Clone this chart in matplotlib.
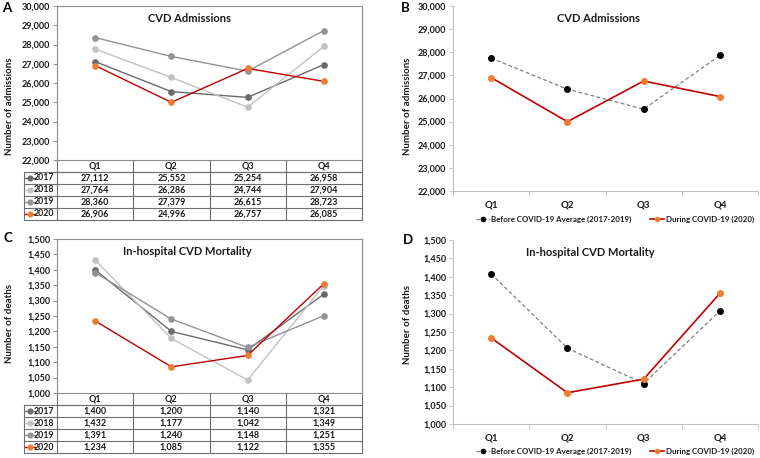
import matplotlib
matplotlib.use('Agg')
import matplotlib.pyplot as plt
from matplotlib.ticker import FuncFormatter, MultipleLocator, FixedLocator

plt.rcParams['font.family'] = ['Lato', 'DejaVu Sans']
plt.rcParams['font.weight'] = 'bold'

quarters = ['Q1', 'Q2', 'Q3', 'Q4']
years = ['2017', '2018', '2019', '2020']

adm_2017 = [27112, 25552, 25254, 26958]
adm_2018 = [27764, 26286, 24744, 27904]
adm_2019 = [28360, 27379, 26615, 28723]
adm_2020 = [26906, 24996, 26757, 26085]
adm_before_avg = [27745, 26406, 25538, 27862]

mort_2017 = [1400, 1200, 1140, 1321]
mort_2018 = [1432, 1177, 1042, 1349]
mort_2019 = [1391, 1240, 1148, 1251]
mort_2020 = [1234, 1085, 1122, 1355]
mort_before_avg = [1408, 1206, 1110, 1307]

line_colors = {'2017': '#6b6b6b', '2018': '#c2c2c2', '2019': '#939393', '2020': '#c00000'}
marker_colors = {'2017': '#6b6b6b', '2018': '#c2c2c2', '2019': '#939393', '2020': '#ed7d31'}
TXT = '#1a1a1a'
GRID = '#6e6e6e'

W, H = 760, 458
fig = plt.figure(figsize=(W / 100, H / 100), dpi=100)

def rect(x0, y0, x1, y1):
    return [x0 / W, 1 - y1 / H, (x1 - x0) / W, (y1 - y0) / H]

axA = fig.add_axes(rect(57, 6, 362, 160))
axB = fig.add_axes(rect(453, 6, 758, 191))
axC = fig.add_axes(rect(57, 239, 362, 393))
axD = fig.add_axes(rect(453, 240, 758, 424))

comma = FuncFormatter(lambda v, p: f'{int(round(v)):,}')
xs = list(range(len(quarters)))


def style_y(ax, lo, hi, step):
    ax.set_ylim(lo, hi)
    ax.yaxis.set_major_locator(MultipleLocator(step))
    ax.yaxis.set_major_formatter(comma)
    ax.tick_params(axis='y', labelsize=6.5, labelcolor=TXT, length=3, width=0.6,
                   direction='out', pad=2)
    for t in ax.get_yticklabels():
        t.set_fontweight('bold')
    ax.set_xlim(-0.5, 3.5)


def table_panel(ax, series, title, ylabel, lo, hi, step, ylab_y, title_xy):
    style_y(ax, lo, hi, step)
    ax.tick_params(axis='y', color='#808080')
    for s in ax.spines.values():
        s.set_color('#8c8c8c')
        s.set_linewidth(0.8)
    ax.set_xticks([])
    for yr, vals in series.items():
        ax.plot(xs, vals, color=line_colors[yr], lw=1.0, marker='o', ms=3.8,
                mfc=marker_colors[yr], mec=marker_colors[yr], zorder=3 if yr == '2020' else 2)
    ax.text(title_xy[0], title_xy[1], title, transform=ax.transAxes, ha='center',
            va='center', fontsize=8, fontweight='bold', color=TXT)
    ax.set_ylabel(ylabel, fontsize=7, fontweight='bold', color=TXT)
    ax.yaxis.set_label_coords(-0.14, ylab_y)
    # table
    h = 12 / 154
    xl = -33 / 305
    tr = ax.transAxes
    nrows = len(series)
    kw = dict(transform=tr, clip_on=False, color=GRID, lw=0.8)
    ax.plot([0, 1], [-h, -h], **kw)
    for i in range(1, nrows + 1):
        y = -(i + 1) * h
        ax.plot([xl, 1], [y, y], **kw)
    ax.plot([xl, 1], [-h, -h], **kw)
    for c in range(1, 4):
        ax.plot([c / 4, c / 4], [0, -(nrows + 1) * h], **kw)
    ax.plot([0, 0], [0, -(nrows + 1) * h], **kw)
    ax.plot([1, 1], [0, -(nrows + 1) * h], **kw)
    ax.plot([xl, xl], [-h, -(nrows + 1) * h], **kw)
    for c, q in enumerate(quarters):
        ax.text((c + 0.5) / 4, -0.5 * h, q, transform=tr, ha='center', va='center',
                fontsize=6.5, fontweight='bold', color=TXT)
    for i, (yr, vals) in enumerate(series.items()):
        yc = -(i + 1.5) * h
        ax.plot([xl + 0.004, xl + 0.037], [yc, yc], transform=tr, clip_on=False,
                color=line_colors[yr], lw=1.0)
        ax.plot([xl + 0.02], [yc], transform=tr, clip_on=False, marker='o', ms=3.4,
                color=marker_colors[yr])
        ax.text(-0.01, yc, yr, transform=tr, ha='right', va='center',
                fontsize=6.3, fontweight='bold', color=TXT)
        for c, v in enumerate(vals):
            ax.text((c + 0.5) / 4, yc, f'{v:,}', transform=tr, ha='center', va='center',
                    fontsize=6.5, fontweight='bold', color=TXT)


def avg_panel(ax, before, during, title, ylabel, lo, hi, step, ylab_y, title_xy, leg_y):
    style_y(ax, lo, hi, step)
    ax.tick_params(axis='y', color='#bfbfbf')
    ax.spines['top'].set_visible(False)
    ax.spines['right'].set_visible(False)
    for s in ('left', 'bottom'):
        ax.spines[s].set_color('#bfbfbf')
        ax.spines[s].set_linewidth(0.8)
    ax.set_xticks(xs)
    ax.set_xticklabels(quarters)
    ax.xaxis.set_minor_locator(FixedLocator([-0.5, 0.5, 1.5, 2.5, 3.5]))
    ax.tick_params(axis='x', which='major', length=0, labelsize=7, labelcolor=TXT, pad=7)
    ax.tick_params(axis='x', which='minor', length=3.5, width=0.6, color='#bfbfbf')
    for t in ax.get_xticklabels():
        t.set_fontweight('bold')
    l1, = ax.plot(xs, before, color='#7f7f7f', lw=0.9, ls=(0, (3, 2)), marker='o', ms=4.0,
                  mfc='black', mec='black', label='Before COVID-19 Average (2017-2019)')
    l2, = ax.plot(xs, during, color='#c00000', lw=1.2, marker='o', ms=4.0,
                  mfc='#ed7d31', mec='#ed7d31', label='During COVID-19 (2020)')
    ax.text(title_xy[0], title_xy[1], title, transform=ax.transAxes, ha='center',
            va='center', fontsize=8, fontweight='bold', color=TXT)
    ax.set_ylabel(ylabel, fontsize=7, fontweight='bold', color=TXT)
    ax.yaxis.set_label_coords(-0.135, ylab_y)
    leg = ax.legend(handles=[l1, l2], loc='center', bbox_to_anchor=(0.53, leg_y), ncol=2,
                    frameon=False, fontsize=5.7, handlelength=1.8, handletextpad=0.2,
                    columnspacing=2.3, borderaxespad=0, markerscale=0.75)
    for t in leg.get_texts():
        t.set_fontweight('bold')
        t.set_color(TXT)


table_panel(axA, {'2017': adm_2017, '2018': adm_2018, '2019': adm_2019, '2020': adm_2020},
            'CVD Admissions', 'Number of admissions', 22000, 30000, 1000, 0.35, (0.433, 0.916))
table_panel(axC, {'2017': mort_2017, '2018': mort_2018, '2019': mort_2019, '2020': mort_2020},
            'In-hospital CVD Mortality', 'Number of deaths', 1000, 1500, 50, 0.45, (0.428, 0.92))
avg_panel(axB, adm_before_avg, adm_2020, 'CVD Admissions', 'Number of admissions',
          22000, 30000, 1000, 0.456, (0.476, 0.93), -0.153)
avg_panel(axD, mort_before_avg, mort_2020, 'In-hospital CVD Mortality', 'Number of deaths',
          1000, 1500, 50, 0.542, (0.45, 0.933), -0.148)

for lbl, x, y in [('A', 2, 8), ('B', 401, 8), ('C', 3, 238), ('D', 403, 240)]:
    fig.text(x / W, 1 - y / H, lbl, ha='left', va='center', fontsize=9.5,
             fontweight='bold', color='black')

fig.savefig('out.png', dpi=100)
